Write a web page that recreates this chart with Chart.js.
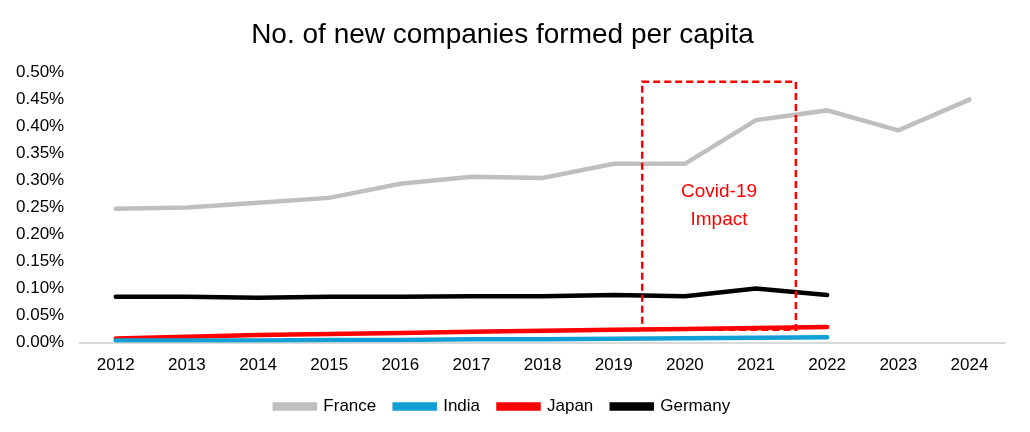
<!DOCTYPE html>
<html>
<head>
<meta charset="utf-8">
<script src="https://cdn.jsdelivr.net/npm/chart.js@4/dist/chart.umd.min.js"></script>
<style>
  body { margin: 0; background: #fff; }
  #wrap { width: 1030px; height: 432px; }
</style>
</head>
<body>
<div id="wrap"><canvas id="newCompaniesChart"></canvas></div>
<script>
const years = ['2012', '2013', '2014', '2015', '2016', '2017', '2018', '2019', '2020', '2021', '2022', '2023', '2024'];
const france = [0.248, 0.250, 0.259, 0.268, 0.294, 0.307, 0.305, 0.331, 0.331, 0.412, 0.430, 0.393, 0.450];
const india = [0.004, 0.004, 0.004, 0.005, 0.005, 0.006, 0.006, 0.007, 0.008, 0.009, 0.010, null, null];
const japan = [0.0074, 0.011, 0.014, 0.016, 0.018, 0.020, 0.022, 0.024, 0.025, 0.027, 0.029, null, null];
const germany = [0.085, 0.085, 0.083, 0.085, 0.085, 0.086, 0.086, 0.088, 0.086, 0.100, 0.088, null, null];

// covid box, in data units (x as category index)
const covidBox = { x0: 7.4, x1: 9.56, y0: 0.483, y1: 0.024, label: ['Covid-19', 'Impact'] };

const FONT = '"Liberation Sans", Arial, sans-serif';

const covidPlugin = {
    id: 'covidBox',
    afterDatasetsDraw(chart) {
        const { ctx, scales: { x, y } } = chart;
        const px = v => {
            const i = Math.floor(v);
            const a = x.getPixelForValue(i);
            const b = x.getPixelForValue(i + 1);
            return a + (b - a) * (v - i);
        };
        const left = px(covidBox.x0), right = px(covidBox.x1);
        const top = y.getPixelForValue(covidBox.y0), bottom = y.getPixelForValue(covidBox.y1);
        ctx.save();
        ctx.strokeStyle = '#ff0000';
        ctx.lineWidth = 2.5;
        ctx.setLineDash([7, 4]);
        ctx.strokeRect(left, top, right - left, bottom - top);
        ctx.fillStyle = '#ff0000';
        ctx.font = '19px ' + FONT;
        ctx.textAlign = 'center';
        ctx.textBaseline = 'middle';
        const cx = (left + right) / 2;
        ctx.fillText(covidBox.label[0], cx, y.getPixelForValue(0.280));
        ctx.fillText(covidBox.label[1], cx, y.getPixelForValue(0.228));
        ctx.restore();
    }
};

const lineSet = (label, data, color) => ({
    label: label,
    data: data,
    borderColor: color,
    backgroundColor: color,
    borderWidth: 4.5,
    pointRadius: 0,
    borderCapStyle: 'round',
    tension: 0,
    spanGaps: false
});

const ctx = document.getElementById('newCompaniesChart').getContext('2d');
const chart = new Chart(ctx, {
    type: 'line',
    data: {
        labels: years,
        datasets: [
            lineSet('France', france, '#bfbfbf'),
            lineSet('India', india, '#119fd6'),
            lineSet('Japan', japan, '#ff0000'),
            lineSet('Germany', germany, '#000000')
        ]
    },
    plugins: [covidPlugin],
    options: {
        responsive: true,
        maintainAspectRatio: false,
        animation: false,
        layout: { padding: { left: 0, right: 25, top: 14, bottom: 7 } },
        plugins: {
            title: {
                display: true,
                text: 'No. of new companies formed per capita',
                color: '#000',
                font: { family: FONT, size: 28, weight: 'normal' },
                padding: { top: 4, bottom: 21 }
            },
            legend: {
                position: 'bottom',
                labels: {
                    color: '#000',
                    font: { family: FONT, size: 17 },
                    boxWidth: 40,
                    boxHeight: 4,
                    padding: 9,
                    // extra gap after each item except the last
                    generateLabels(chart) {
                        const items = Chart.defaults.plugins.legend.labels.generateLabels(chart);
                        items.forEach((it, i) => {
                            if (i < items.length - 1) it.text = it.text + '  ';
                        });
                        return items;
                    }
                }
            },
            tooltip: { enabled: false }
        },
        scales: {
            x: {
                offset: true,
                grid: { display: false, drawTicks: false },
                border: { color: '#d9d9d9', width: 2 },
                ticks: {
                    color: '#000',
                    padding: 13,
                    font: { family: FONT, size: 17 }
                }
            },
            y: {
                min: 0,
                max: 0.5,
                grid: { display: false, drawTicks: false },
                border: { display: false },
                ticks: {
                    stepSize: 0.05,
                    color: '#000',
                    padding: 16,
                    font: { family: FONT, size: 17 },
                    callback: v => v.toFixed(2) + '%'
                }
            }
        }
    }
});
</script>
</body>
</html>
